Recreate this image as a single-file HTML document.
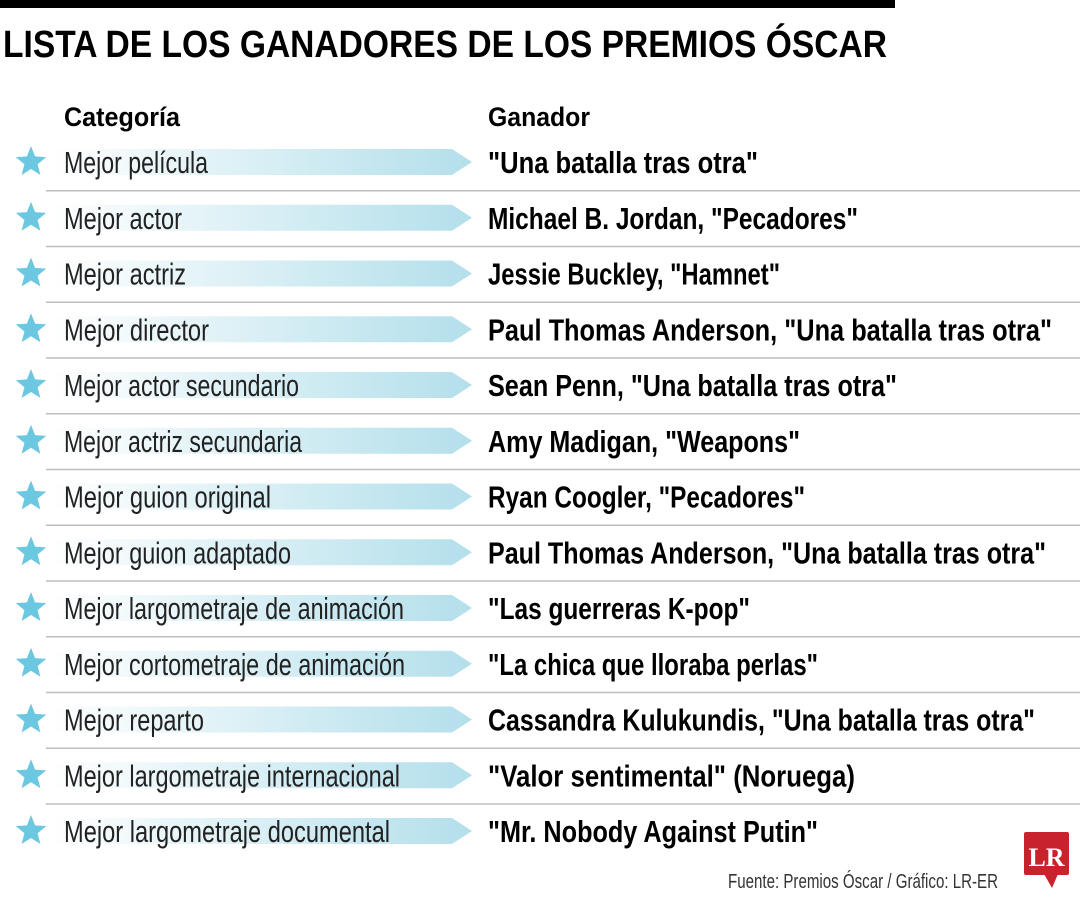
<!DOCTYPE html>
<html><head><meta charset="utf-8"><style>body{margin:0;background:#fff}svg{display:block}</style></head>
<body>
<svg width="1080" height="900" xmlns="http://www.w3.org/2000/svg" xmlns:xlink="http://www.w3.org/1999/xlink" font-family="'Liberation Sans Narrow','Liberation Sans',sans-serif">
<defs>
<linearGradient id="g" x1="0" x2="1" y1="0" y2="0"><stop offset="0" stop-color="#fff"/><stop offset="1" stop-color="#b3dfeb"/></linearGradient>
<g id="row">
<polygon points="50,-13 452,-13 472,0 452,13 50,13" fill="url(#g)"/>
<polygon points="31,-16 35.1,-5.6 46.2,-4.9 37.6,2.2 40.4,13 31,7 21.6,13 24.4,2.2 15.8,-4.9 26.9,-5.6" fill="#6cc8e0"/>
</g>
</defs>
<rect x="0" y="0" width="895" height="8" fill="#000"/>
<text x="3" y="57" font-size="38" font-weight="bold" textLength="884" lengthAdjust="spacingAndGlyphs" font-family="'Liberation Sans',sans-serif">LISTA DE LOS GANADORES DE LOS PREMIOS ÓSCAR</text>
<text x="64" y="126" font-size="27" font-weight="bold" textLength="116" lengthAdjust="spacingAndGlyphs">Categoría</text>
<text x="488" y="126" font-size="27" font-weight="bold" textLength="102" lengthAdjust="spacingAndGlyphs">Ganador</text>

<g fill="#bdbdbd">
<rect x="46" y="190" width="1034" height="1.5"/>
<rect x="46" y="245.75" width="1034" height="1.5"/>
<rect x="46" y="301.5" width="1034" height="1.5"/>
<rect x="46" y="357.25" width="1034" height="1.5"/>
<rect x="46" y="413" width="1034" height="1.5"/>
<rect x="46" y="468.75" width="1034" height="1.5"/>
<rect x="46" y="524.5" width="1034" height="1.5"/>
<rect x="46" y="580.25" width="1034" height="1.5"/>
<rect x="46" y="636" width="1034" height="1.5"/>
<rect x="46" y="691.75" width="1034" height="1.5"/>
<rect x="46" y="747.5" width="1034" height="1.5"/>
<rect x="46" y="803.25" width="1034" height="1.5"/>
</g>

<use xlink:href="#row" href="#row" x="0" y="162"/>
<use xlink:href="#row" href="#row" x="0" y="217.75"/>
<use xlink:href="#row" href="#row" x="0" y="273.5"/>
<use xlink:href="#row" href="#row" x="0" y="329.25"/>
<use xlink:href="#row" href="#row" x="0" y="385"/>
<use xlink:href="#row" href="#row" x="0" y="440.75"/>
<use xlink:href="#row" href="#row" x="0" y="496.5"/>
<use xlink:href="#row" href="#row" x="0" y="552.25"/>
<use xlink:href="#row" href="#row" x="0" y="608"/>
<use xlink:href="#row" href="#row" x="0" y="663.75"/>
<use xlink:href="#row" href="#row" x="0" y="719.5"/>
<use xlink:href="#row" href="#row" x="0" y="775.25"/>
<use xlink:href="#row" href="#row" x="0" y="831"/>

<g font-size="31" fill="#222" lengthAdjust="spacingAndGlyphs">
<text x="64" y="173" textLength="144" lengthAdjust="spacingAndGlyphs">Mejor película</text>
<text x="64" y="228.75" textLength="118" lengthAdjust="spacingAndGlyphs">Mejor actor</text>
<text x="64" y="284.5" textLength="122" lengthAdjust="spacingAndGlyphs">Mejor actriz</text>
<text x="64" y="340.25" textLength="145" lengthAdjust="spacingAndGlyphs">Mejor director</text>
<text x="64" y="396" textLength="235" lengthAdjust="spacingAndGlyphs">Mejor actor secundario</text>
<text x="64" y="451.75" textLength="238" lengthAdjust="spacingAndGlyphs">Mejor actriz secundaria</text>
<text x="64" y="507.5" textLength="207" lengthAdjust="spacingAndGlyphs">Mejor guion original</text>
<text x="64" y="563.25" textLength="227" lengthAdjust="spacingAndGlyphs">Mejor guion adaptado</text>
<text x="64" y="619" textLength="340" lengthAdjust="spacingAndGlyphs">Mejor largometraje de animación</text>
<text x="64" y="674.75" textLength="341" lengthAdjust="spacingAndGlyphs">Mejor cortometraje de animación</text>
<text x="64" y="730.5" textLength="140" lengthAdjust="spacingAndGlyphs">Mejor reparto</text>
<text x="64" y="786.25" textLength="336" lengthAdjust="spacingAndGlyphs">Mejor largometraje internacional</text>
<text x="64" y="842" textLength="326" lengthAdjust="spacingAndGlyphs">Mejor largometraje documental</text>
</g>
<g font-size="31" font-weight="bold" fill="#000">
<text x="488" y="173" textLength="270" lengthAdjust="spacingAndGlyphs">"Una batalla tras otra"</text>
<text x="488" y="228.75" textLength="370" lengthAdjust="spacingAndGlyphs">Michael B. Jordan, "Pecadores"</text>
<text x="488" y="284.5" textLength="292" lengthAdjust="spacingAndGlyphs">Jessie Buckley, "Hamnet"</text>
<text x="488" y="340.25" textLength="564" lengthAdjust="spacingAndGlyphs">Paul Thomas Anderson, "Una batalla tras otra"</text>
<text x="488" y="396" textLength="409" lengthAdjust="spacingAndGlyphs">Sean Penn, "Una batalla tras otra"</text>
<text x="488" y="451.75" textLength="312" lengthAdjust="spacingAndGlyphs">Amy Madigan, "Weapons"</text>
<text x="488" y="507.5" textLength="317" lengthAdjust="spacingAndGlyphs">Ryan Coogler, "Pecadores"</text>
<text x="488" y="563.25" textLength="558" lengthAdjust="spacingAndGlyphs">Paul Thomas Anderson, "Una batalla tras otra"</text>
<text x="488" y="619" textLength="262" lengthAdjust="spacingAndGlyphs">"Las guerreras K-pop"</text>
<text x="488" y="674.75" textLength="330" lengthAdjust="spacingAndGlyphs">"La chica que lloraba perlas"</text>
<text x="488" y="730.5" textLength="547" lengthAdjust="spacingAndGlyphs">Cassandra Kulukundis, "Una batalla tras otra"</text>
<text x="488" y="786.25" textLength="367" lengthAdjust="spacingAndGlyphs">"Valor sentimental" (Noruega)</text>
<text x="488" y="842" textLength="330" lengthAdjust="spacingAndGlyphs">"Mr. Nobody Against Putin"</text>
</g>

<text x="728" y="888" font-size="20" fill="#333" textLength="270" lengthAdjust="spacingAndGlyphs">Fuente: Premios Óscar / Gráfico: LR-ER</text>
<rect x="1024" y="832" width="45" height="43" rx="2" fill="#c8232c"/>
<polygon points="1044,874 1058,874 1052,888" fill="#c8232c"/>
<text x="1046.5" y="866" font-size="26" font-weight="bold" fill="#fff" text-anchor="middle" font-family="'Liberation Serif',serif">LR</text>
</svg>
</body></html>
